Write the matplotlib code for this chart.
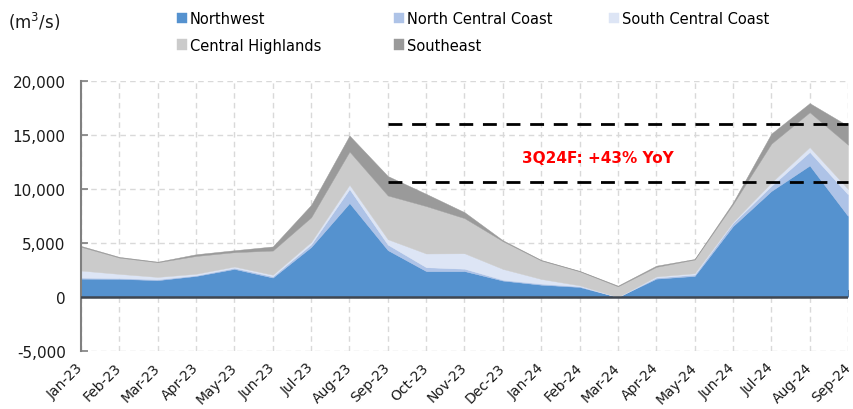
import numpy as np
import matplotlib.pyplot as plt
from matplotlib.ticker import FuncFormatter

months = ["Jan-23", "Feb-23", "Mar-23", "Apr-23", "May-23", "Jun-23", "Jul-23",
          "Aug-23", "Sep-23", "Oct-23", "Nov-23", "Dec-23", "Jan-24", "Feb-24",
          "Mar-24", "Apr-24", "May-24", "Jun-24", "Jul-24", "Aug-24", "Sep-24"]

# water inflow by region, m3/s
northwest = [1700, 1680, 1560, 1950, 2600, 1800, 4630, 8700, 4340, 2400, 2400,
             1520, 1140, 930, 0, 1700, 1950, 6570, 9820, 12180, 7500]
north_central = [100, 80, 90, 70, 100, 120, 250, 1300, 510, 360, 220,
                 80, 100, 70, 0, 100, 130, 280, 470, 1250, 2000]
south_central = [650, 380, 210, 130, 120, 140, 220, 400, 500, 1270, 1430,
                 1000, 430, 80, 0, 100, 120, 100, 310, 450, 500]
central_highlands = [2200, 1510, 1360, 1650, 1330, 2240, 2280, 3070, 4050, 4390, 3250,
                     2570, 1710, 1300, 990, 890, 1270, 1650, 3600, 3230, 4100]
southeast = [80, 60, 50, 160, 180, 380, 1150, 1480, 1800, 1130, 550,
             80, 50, 40, 60, 110, 50, 150, 930, 840, 1750]

series_names = ["Northwest", "North Central Coast", "South Central Coast",
                "Central Highlands", "Southeast"]
colors = ["#5592cf", "#aec3e7", "#dde5f5", "#cbcbcb", "#9a9a9a"]

# dashed reference levels and note
ref_start = 8
ref_levels = [16000, 10650]
note = "3Q24F: +43% YoY"

ymin, ymax = -5000, 20000

fig = plt.figure(figsize=(8.54, 4.10), dpi=100)
ax = fig.add_axes([81/854, 1 - 352/410, 767/854, 270/410])

x = np.arange(len(months))
stacks = ax.stackplot(x, northwest, north_central, south_central, central_highlands, southeast,
                      colors=colors, labels=series_names, linewidth=0.3, zorder=2)
for s, c in zip(stacks, colors):
    s.set_edgecolor(c)

ax.set_xlim(0, len(months) - 1)
ax.set_ylim(ymin, ymax)
ax.set_yticks(np.arange(ymin, ymax + 1, 5000))
ax.yaxis.set_major_formatter(FuncFormatter(lambda v, p: f"{int(v):,}"))
ax.set_xticks(x)
ax.set_xticklabels(months, rotation=45, ha="right", va="center", rotation_mode="anchor")

ax.set_axisbelow(True)
ax.grid(True, color="#d9d9d9", linestyle=(0, (4, 3)), linewidth=1.0)

for sp in ["top", "right", "bottom"]:
    ax.spines[sp].set_visible(False)
ax.spines["left"].set_color("#808080")
ax.spines["left"].set_linewidth(1.5)

ax.tick_params(axis="y", direction="in", length=5, color="#808080", width=1.2,
               labelsize=11, pad=11, labelcolor="#1a1a1a")
ax.tick_params(axis="x", length=0, labelsize=10, pad=10, labelcolor="#1a1a1a")

# zero line with tick marks
ax.axhline(0, color="#3f4650", linewidth=1.8, zorder=3)
zero_pos = (0 - ymin) / (ymax - ymin)
sec = ax.secondary_xaxis(zero_pos)
sec.set_xticks(x)
sec.tick_params(direction="in", length=5, width=1.2, color="#222222", labelbottom=False)
sec.spines["bottom"].set_visible(False)

for lvl in ref_levels:
    ax.plot([ref_start, len(months) - 1], [lvl, lvl], color="black", linewidth=2,
            linestyle=(0, (5, 3.5)), zorder=4, clip_on=False)
ax.text(13.47, 12900, note, color="#ff0000", fontsize=11, fontweight="bold",
        ha="center", va="center", zorder=5)

fig.text(8/854, 1 - 22/410, "(m$^3$/s)", fontsize=12, ha="left", va="center", color="#1a1a1a")

# legend laid out in three fixed-width columns
handles, labels = ax.get_legend_handles_labels()
columns = [[0, 3], [1, 4], [2]]
col_x = [177, 394, 609]
for idx, cx in zip(columns, col_x):
    fig.legend([handles[i] for i in idx], [labels[i] for i in idx],
               loc="upper left", bbox_to_anchor=(cx/854, 1 - 12/410), ncol=1, frameon=False,
               fontsize=10.5, handlelength=0.7, handleheight=0.7, handletextpad=0.2,
               labelspacing=0.8, borderpad=0, borderaxespad=0)

fig.savefig("out.png", dpi=100)
